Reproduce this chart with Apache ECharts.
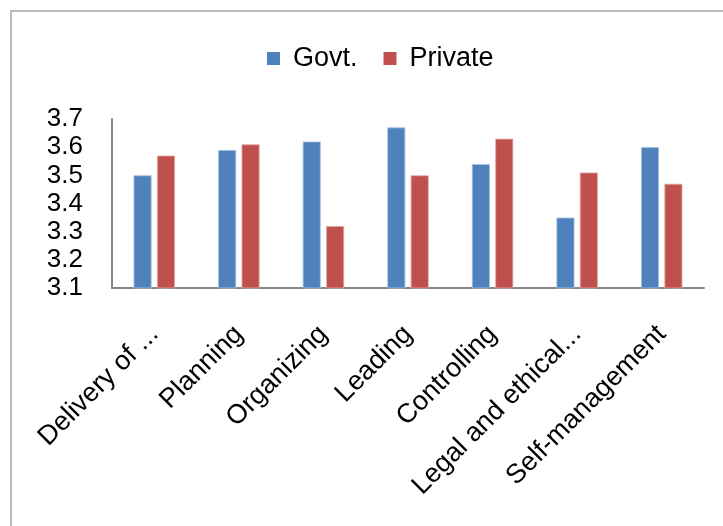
<!DOCTYPE html>
<html><head><meta charset="utf-8">
<script src="https://cdn.jsdelivr.net/npm/echarts@6/dist/echarts.min.js"></script>
<style>html,body{margin:0;padding:0;background:#fff}#c{width:723px;height:526px}</style>
</head><body><div id="c"></div>
<script>
const categories = ["Delivery of ...", "Planning", "Organizing", "Leading", "Controlling", "Legal and ethical...", "Self-management"];
const govt = [3.50, 3.59, 3.62, 3.67, 3.54, 3.35, 3.60];
const privateVals = [3.57, 3.61, 3.32, 3.50, 3.63, 3.51, 3.47];
const seriesNames = ["Govt.", "Private"];
const yMin = 3.1, yMax = 3.7, yStep = 0.1;

const font = "'Liberation Sans', Arial, sans-serif";
const chart = echarts.init(document.getElementById('c'));
chart.setOption({
  animation: false,
  backgroundColor: '#fff',
  graphic: [{type:'rect', shape:{x:11, y:11, width:900, height:800}, style:{fill:'none', stroke:'#a6a6a6', lineWidth:1.5}}],
  legend: {
    left: 267, top: 45, padding: 0, itemWidth: 13, itemHeight: 13, itemGap: 26,
    icon: 'rect',
    itemStyle: {borderWidth: 0},
    textStyle: {fontFamily: font, fontSize: 27, color: '#000', padding: [0,0,0,8]},
    data: seriesNames
  },
  grid: {left: 112, right: 19, top: 119, bottom: 238, containLabel: false},
  xAxis: {
    type: 'category', data: categories,
    axisLine: {lineStyle: {color: '#868686', width: 2}},
    axisTick: {show: false},
    axisLabel: {rotate: 45, interval: 0, margin: 42, fontFamily: font, fontSize: 27, color: '#000'}
  },
  yAxis: {
    type: 'value', min: yMin, max: yMax, interval: yStep,
    axisLine: {show: true, lineStyle: {color: '#868686', width: 2}},
    axisTick: {show: false},
    splitLine: {show: false},
    axisLabel: {margin: 29, fontFamily: font, fontSize: 26, color: '#000', formatter: v => v.toFixed(1)}
  },
  series: [
    {name: seriesNames[0], type: 'bar', data: govt, barWidth: 18, barGap: '30%',
     itemStyle: {color: '#4F81BD', borderColor: '#a9c0df', borderWidth: 0.8}},
    {name: seriesNames[1], type: 'bar', data: privateVals, barWidth: 18,
     itemStyle: {color: '#C0504D', borderColor: '#e0a8a6', borderWidth: 0.8}}
  ]
});
</script></body></html>
